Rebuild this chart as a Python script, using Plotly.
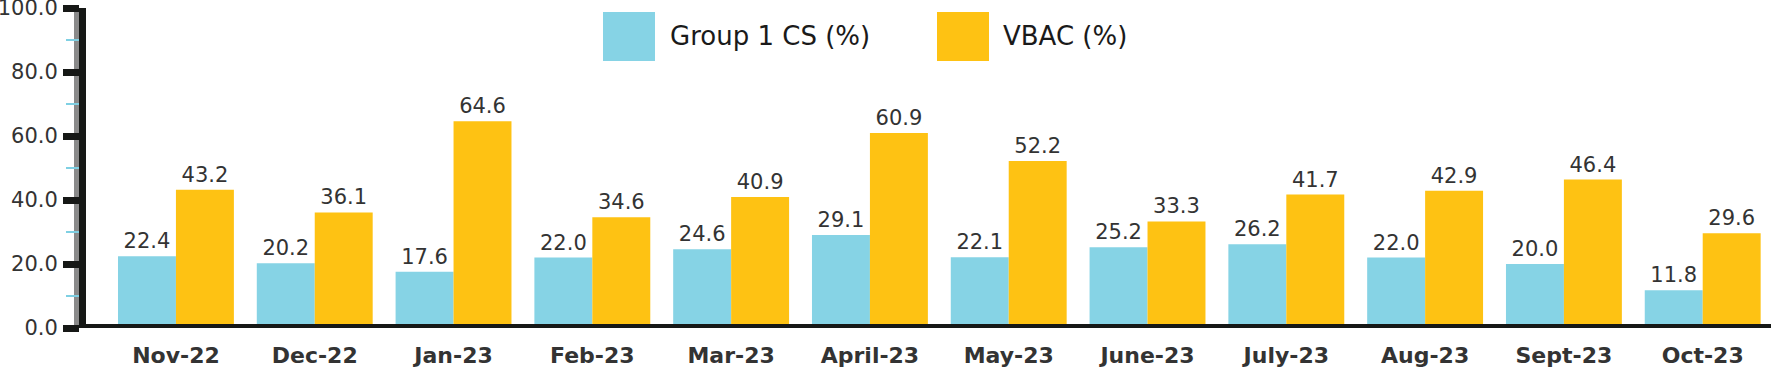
import plotly.graph_objects as go

months = ["Nov-22", "Dec-22", "Jan-23", "Feb-23", "Mar-23", "April-23", "May-23",
          "June-23", "July-23", "Aug-23", "Sept-23", "Oct-23"]
group1_cs = [22.4, 20.2, 17.6, 22.0, 24.6, 29.1, 22.1, 25.2, 26.2, 22.0, 20.0, 11.8]
vbac = [43.2, 36.1, 64.6, 34.6, 40.9, 60.9, 52.2, 33.3, 41.7, 42.9, 46.4, 29.6]
series_names = ["Group 1 CS (%)", "VBAC (%)"]
colors = ["#86D3E5", "#FEC213"]
y_ticks = [0, 20, 40, 60, 80, 100]

W, H = 1771, 371
FONT = "DejaVu Sans"
AXIS = "#161816"
TXT = "#333333"
L, T, B = 86, 8, 43

fig = go.Figure()
for name, vals, col in zip(series_names, [group1_cs, vbac], colors):
    fig.add_trace(go.Bar(
        x=list(range(len(months))), y=vals, name=name, marker_color=col,
        marker_line_width=0,
        text=[f"{v:.1f}" for v in vals], textposition="outside",
        textfont=dict(family=FONT, size=21, color=TXT),
        constraintext="none", cliponaxis=False, showlegend=False,
    ))

fig.update_layout(
    width=W, height=H, barmode="group", bargap=0.165, bargroupgap=0,
    plot_bgcolor="white", paper_bgcolor="white",
    margin=dict(l=L, r=0, t=T, b=B, autoexpand=False),
    font=dict(family=FONT, color=TXT),
)
fig.update_xaxes(
    range=[-0.648, 11.492], tickmode="array",
    tickvals=list(range(len(months))), ticktext=months,
    tickfont=dict(family=FONT, size=22, color=TXT, weight="bold"),
    showline=False, ticks="", showgrid=False,
    zeroline=False, ticklabelstandoff=12, automargin=False,
)
fig.update_yaxes(
    range=[0, 100], tickmode="array", tickvals=y_ticks,
    ticktext=[f"{v:.1f}" for v in y_ticks],
    tickfont=dict(family=FONT, size=21, color=TXT),
    showline=True, linewidth=7, linecolor=AXIS, mirror=False,
    ticks="outside", ticklen=16, tickwidth=7, tickcolor=AXIS,
    minor=dict(dtick=10, tick0=0, ticks="outside", ticklen=13, tickwidth=2,
               tickcolor="#7FD0E3"),
    showgrid=False, zeroline=False, ticklabelstandoff=1, automargin=False,
    ticklabeloverflow="allow",
)

# gray line alongside y axis
fig.add_shape(type="line", xref="paper", yref="paper",
              x0=-9.5 / (W - L), x1=-9.5 / (W - L), y0=0, y1=1.0,
              line=dict(color="#8a8a8a", width=5), layer="below")
# thick baseline drawn over the bar bases
fig.add_shape(type="line", xref="paper", yref="y",
              x0=-7 / (W - L), x1=1, y0=0, y1=0,
              line=dict(color=AXIS, width=8), layer="above")

# legend (custom large swatches)
def px_x(x):
    return (x - L) / (W - L)

def px_y(y):
    return (H - B - y) / (H - T - B)

leg = [(603, 655, series_names[0], colors[0], 668), (937, 989, series_names[1], colors[1], 1001)]
for x0, x1, name, col, tx in leg:
    fig.add_shape(type="rect", xref="paper", yref="paper",
                  x0=px_x(x0), x1=px_x(x1), y0=px_y(61), y1=px_y(12),
                  fillcolor=col, line_width=0)
    fig.add_annotation(xref="paper", yref="paper", x=px_x(tx), y=px_y(36),
                       text=name, showarrow=False, xanchor="left", yanchor="middle",
                       font=dict(family=FONT, size=26, color="#1a1a1a"))

fig.write_html("out.html", config={"displayModeBar": False},
               post_script="document.body.style.margin='0';document.body.style.overflow='hidden';")
